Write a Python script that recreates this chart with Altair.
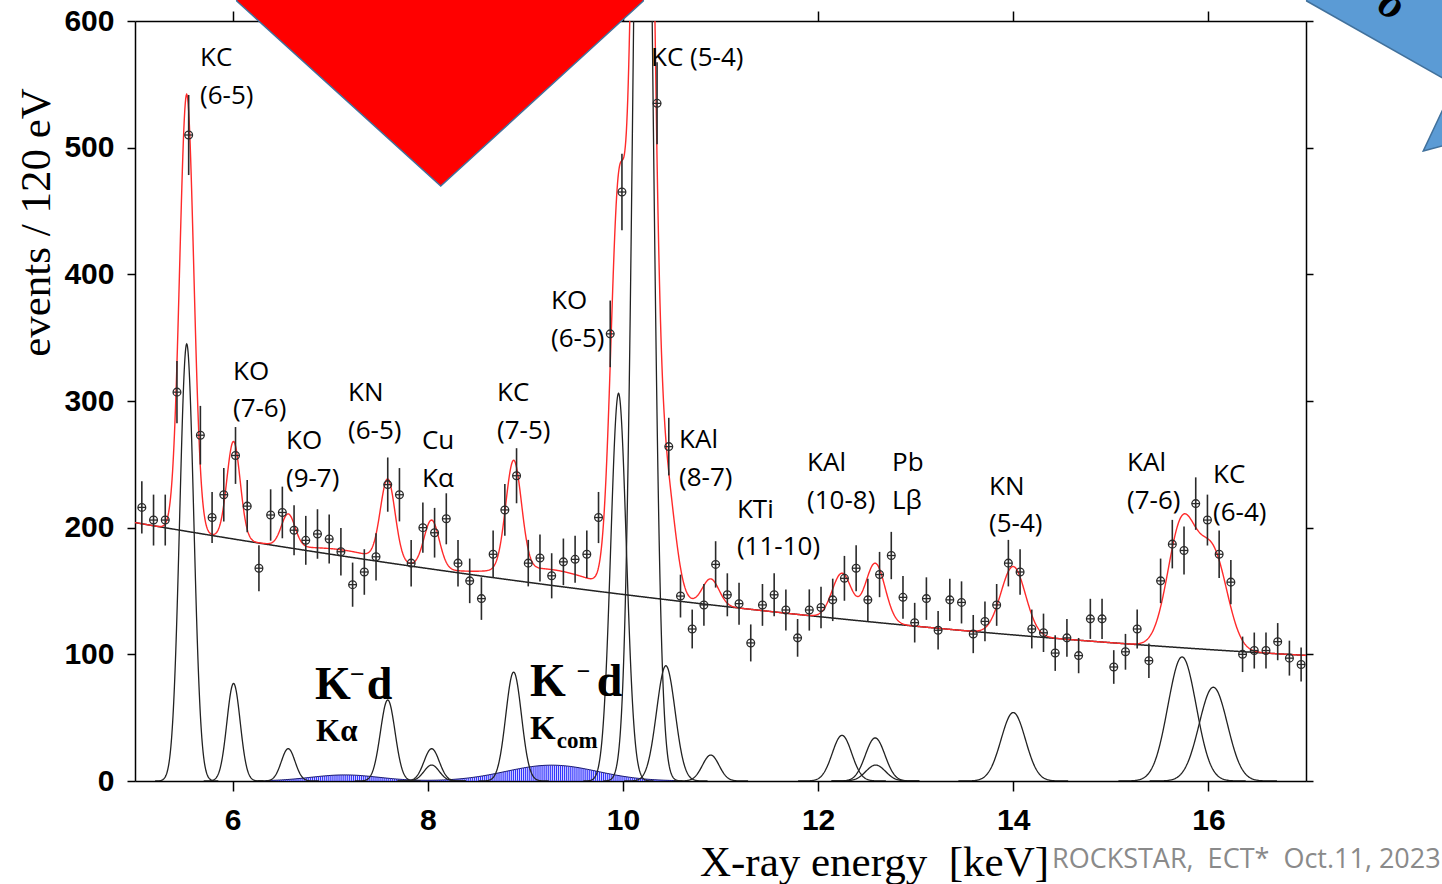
import altair as alt
import numpy as np
import pandas as pd

# Measured spectrum: bin centres [keV] and counts per 120 eV bin
ENERGY = [
    5.07, 5.19, 5.31, 5.43, 5.55, 5.67, 5.79, 5.91, 6.03, 6.15,
    6.27, 6.39, 6.51, 6.63, 6.75, 6.87, 6.99, 7.11, 7.23, 7.35,
    7.47, 7.59, 7.71, 7.83, 7.95, 8.07, 8.19, 8.31, 8.43, 8.55,
    8.67, 8.79, 8.91, 9.03, 9.15, 9.27, 9.39, 9.51, 9.63, 9.75,
    9.87, 9.99, 10.11, 10.23, 10.35, 10.47, 10.59, 10.71, 10.83, 10.95,
    11.07, 11.19, 11.31, 11.43, 11.55, 11.67, 11.79, 11.91, 12.03, 12.15,
    12.27, 12.39, 12.51, 12.63, 12.75, 12.87, 12.99, 13.11, 13.23, 13.35,
    13.47, 13.59, 13.71, 13.83, 13.95, 14.07, 14.19, 14.31, 14.43, 14.55,
    14.67, 14.79, 14.91, 15.03, 15.15, 15.27, 15.39, 15.51, 15.63, 15.75,
    15.87, 15.99, 16.11, 16.23, 16.35, 16.47, 16.59, 16.71, 16.83, 16.95,
]
COUNTS = [
    216, 206, 206, 307, 510, 273, 208, 226, 257, 217,
    168, 210, 212, 198, 190, 195, 191, 181, 155, 165,
    177, 234, 226, 172, 200, 196, 207, 172, 158, 144,
    179, 214, 241, 172, 176, 162, 173, 175, 179, 208,
    353, 465, 820, 1300, 535, 264, 146, 120, 139, 171,
    147, 140, 109, 139, 147, 135, 113, 135, 137, 143,
    160, 168, 143, 163, 178, 145, 125, 144, 119, 143,
    141, 116, 126, 139, 172, 165, 120, 117, 101, 113,
    99, 128, 128, 90, 102, 120, 95, 158, 187, 182,
    219, 206, 179, 157, 100, 103, 103, 110, 97, 92,
]
# statistical error scale applied to sqrt(N)
ERR_SCALE = 1.4

# Fit model: quadratic background in (E - 5 keV)
BACKGROUND = [204.0, -13.2, 0.372]

# X-ray lines (Gaussian components): centre [keV], height [events], sigma [keV]
LINE_NAMES = ["KC (6-5)", "KO (7-6)", "KO (9-7)", "KN (6-5)", "Cu Ka1", "Cu Ka2",
              "KC (7-5)", "KO (6-5)", "KC (5-4)", "KAl (8-7)", "KTi (11-10)",
              "KAl (10-8)", "Pb Lb1", "Pb Lb2", "KN (5-4)", "KAl (7-6)", "KC (6-4)"]
LINE_ENERGY = [5.53, 6.01, 6.57, 7.59, 8.04, 8.04, 8.88, 9.955, 10.205, 10.44, 10.90,
               12.245, 12.585, 12.59, 14.00, 15.73, 16.05]
LINE_HEIGHT = [345, 77, 25.5, 64, 25.5, 12.6, 86, 306, 1050, 91, 20.5,
               36, 34, 12.6, 54, 98, 74]
LINE_SIGMA = [0.072, 0.068, 0.07, 0.075, 0.078, 0.078, 0.08, 0.08, 0.09, 0.095, 0.085,
              0.1, 0.1, 0.1, 0.125, 0.145, 0.145]

# K-d signal components (hatched)
KD_NAMES = ["K-d Ka", "K-d Kcom"]
KD_ENERGY = [7.15, 9.27]
KD_HEIGHT = [4.8, 12.5]
KD_SIGMA = [0.35, 0.47]


def background(e):
    x = e - 5.0
    return BACKGROUND[0] + BACKGROUND[1] * x + BACKGROUND[2] * x * x


def gauss(e, mu, h, s):
    return h * np.exp(-0.5 * ((e - mu) / s) ** 2)


grid = np.linspace(5.0, 17.0, 2401)
kd_sum = sum(gauss(grid, m, h, s) for m, h, s in zip(KD_ENERGY, KD_HEIGHT, KD_SIGMA))
lines_sum = sum(gauss(grid, m, h, s) for m, h, s in zip(LINE_ENERGY, LINE_HEIGHT, LINE_SIGMA))
fit_df = pd.DataFrame({"e": grid, "bg": background(grid), "fit": background(grid) + lines_sum + kd_sum})

comp_rows = []
for name, m, h, s in zip(LINE_NAMES, LINE_ENERGY, LINE_HEIGHT, LINE_SIGMA):
    ee = np.linspace(m - 4.5 * s, m + 4.5 * s, 181)
    comp_rows.append(pd.DataFrame({"e": ee, "v": gauss(ee, m, h, s), "name": name}))
comp_df = pd.concat(comp_rows, ignore_index=True)

hatch_e = np.arange(6.2, 10.9, 0.02)
hatch_v = sum(gauss(hatch_e, m, h, s) for m, h, s in zip(KD_ENERGY, KD_HEIGHT, KD_SIGMA))
hatch_df = pd.DataFrame({"e": hatch_e, "v": hatch_v})
hatch_df = hatch_df[hatch_df.v > 0.3]

counts = np.array(COUNTS, dtype=float)
err = ERR_SCALE * np.sqrt(counts)
data_df = pd.DataFrame({"e": ENERGY, "n": counts, "lo": counts - err, "hi": counts + err})

xs = alt.Scale(domain=[5, 17], nice=False, zero=False)
ys = alt.Scale(domain=[0, 600], nice=False, zero=False)

ax_common = dict(tickColor="black", tickWidth=1.5, domainColor="black", domainWidth=1.5,
                 grid=False, labelOverlap=False, labelFlush=False)
ax_bottom = alt.Axis(orient="bottom", values=[6, 8, 10, 12, 14, 16], tickSize=10,
                     labelFont="Liberation Sans", labelFontSize=30, labelFontWeight="bold",
                     labelColor="black", labelPadding=14,
                     title="X-ray energy\u00a0\u00a0[keV]", titleFont="Liberation Serif",
                     titleFontSize=43, titleFontWeight="normal", titleColor="black",
                     titleX=739, titleY=94, titleAlign="center", titleBaseline="alphabetic",
                     **ax_common)
ax_left = alt.Axis(orient="left", values=[0, 100, 200, 300, 400, 500, 600], tickSize=8,
                   labelFont="Liberation Sans", labelFontSize=30, labelFontWeight="bold",
                   labelColor="black", labelPadding=13,
                   title="events / 120 eV", titleFont="Liberation Serif", titleFontSize=43,
                   titleFontWeight="normal", titleColor="black", titleX=-86, titleY=201,
                   titleAngle=270, titleAlign="center", titleBaseline="alphabetic",
                   **ax_common)
ax_top = alt.Axis(orient="top", values=[6, 8, 10, 12, 14, 16], tickSize=10, labels=False,
                  title=None, **ax_common)
ax_right = alt.Axis(orient="right", values=[0, 100, 200, 300, 400, 500, 600], tickSize=7,
                    labels=False, title=None, **ax_common)


def X(axis=None, field="e"):
    return alt.X(f"{field}:Q", scale=xs, axis=axis)


def Y(field, axis=None):
    return alt.Y(f"{field}:Q", scale=ys, axis=axis)


# K-d hatched distributions
hatch = alt.Chart(hatch_df).mark_rule(color="#3333ff", strokeWidth=1.2, clip=True).encode(
    x=X(), y=alt.Y("v:Q", scale=ys, axis=None), y2=alt.datum(0))
hatch_top = alt.Chart(hatch_df).mark_line(color="#14146e", strokeWidth=1, clip=True).encode(
    x=X(), y=Y("v"))

# individual line components
comps = alt.Chart(comp_df).mark_line(color="#222222", strokeWidth=1.3, clip=True).encode(
    x=X(), y=Y("v"), detail="name:N")

# background and total fit (these carry the frame axes)
bg_line = alt.Chart(fit_df).mark_line(color="#222222", strokeWidth=1.5, clip=True).encode(
    x=X(ax_bottom), y=Y("bg", ax_left))
fit_line = alt.Chart(fit_df).mark_line(color="#ff2a2a", strokeWidth=1.4, clip=True).encode(
    x=X(ax_top), y=Y("fit", ax_right))

# data points with error bars
ebars = alt.Chart(data_df).mark_rule(color="#2a2a2a", strokeWidth=1.6, clip=True).encode(
    x=X(), y=Y("lo"), y2="hi:Q")
pts = alt.Chart(data_df).mark_point(shape="circle", size=60, filled=False, color="#2a2a2a",
                                     strokeWidth=1.3, opacity=1, clip=True).encode(x=X(), y=Y("n"))
pts_bar = alt.Chart(data_df).mark_point(shape="stroke", size=60, color="#2a2a2a",
                                         strokeWidth=1.3, opacity=1, clip=True).encode(x=X(), y=Y("n"))

# transition labels
LABELS = [
    ("KC", 5.666, 570.8), ("(6-5)", 5.666, 540.8),
    ("KC (5-4)", 10.288, 570.8),
    ("KO", 9.263, 378.9), ("(6-5)", 9.263, 349.0),
    ("KO", 6.004, 322.9), ("(7-6)", 6.004, 293.7),
    ("KO", 6.547, 268.4), ("(9-7)", 6.547, 238.4),
    ("KN", 7.183, 306.3), ("(6-5)", 7.183, 276.3),
    ("Cu", 7.941, 268.4), ("K\u03b1", 7.941, 238.4),
    ("KC", 8.710, 306.3), ("(7-5)", 8.710, 276.3),
    ("KAl", 10.575, 269.2), ("(8-7)", 10.575, 239.2),
    ("KTi", 11.168, 213.9), ("(11-10)", 11.168, 184.7),
    ("KAl", 11.887, 251.0), ("(10-8)", 11.887, 221.0),
    ("Pb", 12.758, 251.0), ("L\u03b2", 12.758, 221.0),
    ("KN", 13.752, 232.1), ("(5-4)", 13.752, 202.9),
    ("KAl", 15.166, 251.0), ("(7-6)", 15.166, 221.0),
    ("KC", 16.047, 241.6), ("(6-4)", 16.047, 211.6),
]
lab_df = pd.DataFrame(LABELS, columns=["t", "e", "v"])
labels = alt.Chart(lab_df).mark_text(font="Open Sans", fontSize=26, align="left",
                                     baseline="middle", color="black").encode(
    x=X(), y=Y("v"), text="t:N")

# K-d signal labels (bold serif pieces: text, energy, height, size)
KD_LABELS = [
    ("K", 6.845, 64.7, 46), ("\u2212", 7.203, 77.0, 26), ("d", 7.374, 64.7, 46),
    ("K\u03b1", 6.855, 31.6, 31),
    ("K", 9.048, 67.1, 46), ("\u2212", 9.527, 80.5, 24), ("d", 9.731, 67.1, 46),
    ("K", 9.048, 32.9, 33), ("com", 9.322, 26.3, 23),
]
kd_layers = []
for t, e, v, fs in KD_LABELS:
    kd_layers.append(
        alt.Chart(pd.DataFrame({"t": [t], "e": [e], "v": [v]})).mark_text(
            font="Liberation Serif", fontWeight="bold", fontSize=fs, align="left",
            baseline="alphabetic", color="black").encode(x=X(), y=Y("v"), text="t:N"))

footer = alt.Chart(pd.DataFrame({"t": ["ROCKSTAR,\u00a0\u00a0ECT*\u00a0\u00a0Oct.11, 2023"],
                                 "e": [14.397], "v": [-68.9]})).mark_text(
    font="Open Sans", fontSize=27, align="left", baseline="alphabetic", color="#8a8a8a").encode(
    x=X(), y=Y("v"), text="t:N")

# slide overlay shapes
red_shape = alt.Chart(pd.DataFrame({"e": [6.042, 8.133, 10.209], "v": [615.8, 469.7, 615.8],
                                    "v2": [650, 650, 650]})).mark_area(
    color="#ff0000", stroke="#41719c", strokeWidth=1.5, opacity=1, clip=False).encode(
    x=X(), y=Y("v"), y2="v2:Q")
blue_shaft = alt.Chart(pd.DataFrame({"e": [17.007, 18.58], "v": [615.8, 547.2],
                                     "v2": [650, 650]})).mark_area(
    color="#5b9bd5", stroke="#41719c", strokeWidth=1.5, opacity=1, clip=False).encode(
    x=X(), y=Y("v"), y2="v2:Q")
blue_head = alt.Chart(pd.DataFrame({"e": [18.202, 18.58], "v": [497.4, 505.1],
                                    "v2": [497.4, 559.3]})).mark_area(
    color="#5b9bd5", stroke="#41719c", strokeWidth=1.5, opacity=1, clip=False).encode(
    x=X(), y=Y("v"), y2="v2:Q")
blue_text = alt.Chart(pd.DataFrame({"t": ["o"], "e": [17.81], "v": [604.0]})).mark_text(
    font="Liberation Serif", fontWeight="bold", fontStyle="italic", fontSize=44, angle=30,
    align="center", baseline="alphabetic", color="black").encode(x=X(), y=Y("v"), text="t:N")

chart = alt.layer(
    hatch, hatch_top, comps, bg_line, fit_line, ebars, pts, pts_bar, labels,
    *kd_layers, footer, red_shape, blue_shaft, blue_head, blue_text,
).resolve_axis(x="independent", y="independent").properties(
    width=1171, height=760,
    padding={"left": 135, "top": 21, "right": 136, "bottom": 103},
    autosize=alt.AutoSizeParams(type="none"),
    background="white",
).configure_view(stroke=None)

chart.save("out.html", embed_options={"renderer": "svg", "actions": False})
